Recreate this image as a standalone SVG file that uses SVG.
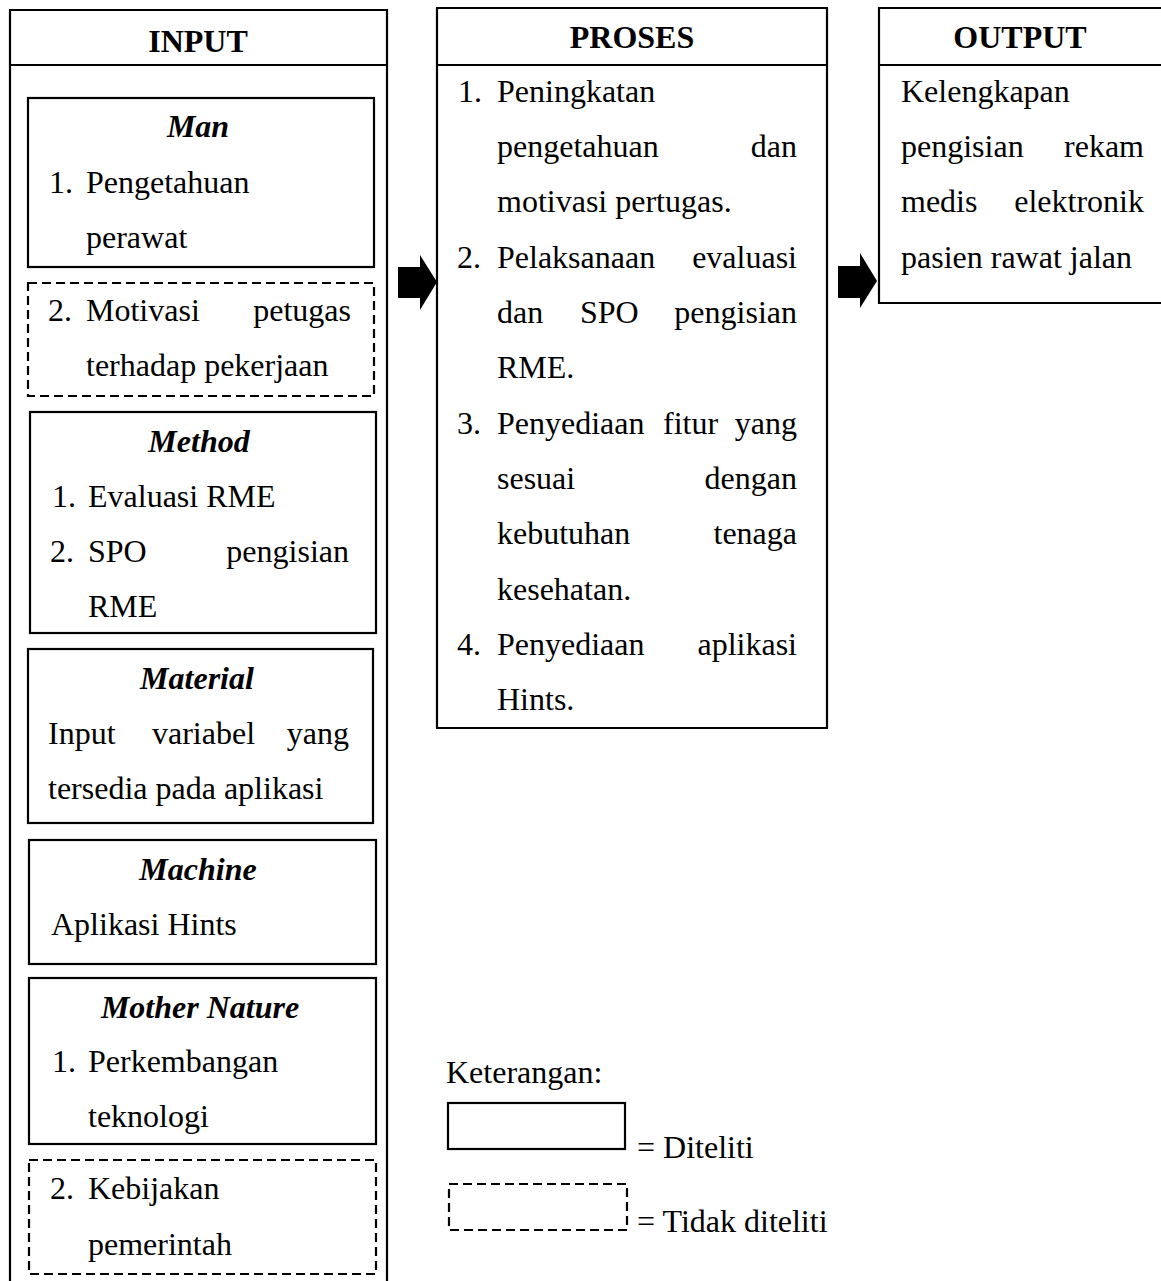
<svg xmlns="http://www.w3.org/2000/svg" width="1161" height="1281" viewBox="0 0 1161 1281">
<style>
text{font-family:"Liberation Serif","Times New Roman",serif;font-size:32px;fill:#000}
.h{font-weight:bold;text-anchor:middle}
.hi{font-weight:bold;font-style:italic;text-anchor:middle}
.e{text-anchor:end}
.box{fill:none;stroke:#000;stroke-width:2.2}
.dash{fill:none;stroke:#000;stroke-width:2.2;stroke-dasharray:9 5}
.arr{fill:#000;stroke:none}
</style>
<rect width="1161" height="1281" fill="#fff"/>

<g id="input">
  <path class="box" d="M10,1290 V10 H387 V1290 M10,65 H387"/>
  <text class="h" x="198" y="52">INPUT</text>
</g>

<g id="man">
  <rect class="box" x="28" y="98" width="346" height="169"/>
  <text class="hi" x="198" y="137">Man</text>
  <text x="49" y="193">1.</text>
  <text x="86" y="193">Pengetahuan</text>
  <text x="86" y="248">perawat</text>
</g>

<g id="man-2">
  <rect class="dash" x="28" y="283" width="346" height="113"/>
  <text x="48" y="321">2.</text>
  <text x="86" y="321">Motivasi</text>
  <text class="e" x="351" y="321">petugas</text>
  <text x="86" y="376">terhadap pekerjaan</text>
</g>

<g id="method">
  <rect class="box" x="30" y="412" width="346" height="221"/>
  <text class="hi" x="199" y="452">Method</text>
  <text x="52" y="507">1.</text>
  <text x="88" y="507">Evaluasi RME</text>
  <text x="50" y="562">2.</text>
  <text x="88" y="562">SPO</text>
  <text class="e" x="349" y="562">pengisian</text>
  <text x="88" y="617">RME</text>
</g>

<g id="material">
  <rect class="box" x="28" y="649" width="345" height="174"/>
  <text class="hi" x="197" y="689">Material</text>
  <text x="48" y="744">Input</text>
  <text x="152" y="744">variabel</text>
  <text class="e" x="349" y="744">yang</text>
  <text x="48" y="799">tersedia pada aplikasi</text>
</g>

<g id="machine">
  <rect class="box" x="29" y="840" width="347" height="124"/>
  <text class="hi" x="198" y="880">Machine</text>
  <text x="51" y="935">Aplikasi Hints</text>
</g>

<g id="mother-nature">
  <rect class="box" x="29" y="978" width="347" height="166"/>
  <text class="hi" x="200" y="1018">Mother Nature</text>
  <text x="52" y="1072">1.</text>
  <text x="88" y="1072">Perkembangan</text>
  <text x="88" y="1127">teknologi</text>
</g>

<g id="mother-nature-2">
  <rect class="dash" x="29" y="1160" width="347" height="114"/>
  <text x="50" y="1199">2.</text>
  <text x="88" y="1199">Kebijakan</text>
  <text x="88" y="1255">pemerintah</text>
</g>

<g id="proses">
  <path class="box" d="M437,8 H827 V728 H437 Z M437,65 H827"/>
  <text class="h" x="632" y="48">PROSES</text>
  <text x="458" y="102">1.</text>
  <text x="497" y="102">Peningkatan</text>
  <text x="497" y="157">pengetahuan</text>
  <text class="e" x="797" y="157">dan</text>
  <text x="497" y="212">motivasi pertugas.</text>
  <text x="457" y="268">2.</text>
  <text x="497" y="268">Pelaksanaan</text>
  <text class="e" x="797" y="268">evaluasi</text>
  <text x="497" y="323">dan</text>
  <text x="580" y="323">SPO</text>
  <text class="e" x="797" y="323">pengisian</text>
  <text x="497" y="378">RME.</text>
  <text x="457" y="434">3.</text>
  <text x="497" y="434">Penyediaan</text>
  <text x="663" y="434">fitur</text>
  <text class="e" x="797" y="434">yang</text>
  <text x="497" y="489">sesuai</text>
  <text class="e" x="797" y="489">dengan</text>
  <text x="497" y="544">kebutuhan</text>
  <text class="e" x="797" y="544">tenaga</text>
  <text x="497" y="600">kesehatan.</text>
  <text x="457" y="655">4.</text>
  <text x="497" y="655">Penyediaan</text>
  <text class="e" x="797" y="655">aplikasi</text>
  <text x="497" y="710">Hints.</text>
</g>

<g id="output">
  <path class="box" d="M1170,8 H879 V303 H1170 M879,65 H1170"/>
  <text class="h" x="1020" y="48">OUTPUT</text>
  <text x="901" y="102">Kelengkapan</text>
  <text x="901" y="157">pengisian</text>
  <text class="e" x="1144" y="157">rekam</text>
  <text x="901" y="212">medis</text>
  <text class="e" x="1144" y="212">elektronik</text>
  <text x="901" y="268">pasien rawat jalan</text>
</g>

<g id="connectors">
  <polygon class="arr" points="398,267 420,267 420,255 437,282 420,310 420,298 398,298"/>
  <polygon class="arr" points="838,266 860,266 860,253 877,281 860,308 860,298 838,298"/>
</g>

<g id="legend">
  <text x="446" y="1083">Keterangan:</text>
  <rect class="box" x="448" y="1103" width="177" height="46"/>
  <text x="637" y="1158">= Diteliti</text>
  <rect class="dash" x="449" y="1184" width="178" height="46"/>
  <text x="637" y="1232">= Tidak diteliti</text>
</g>
</svg>
